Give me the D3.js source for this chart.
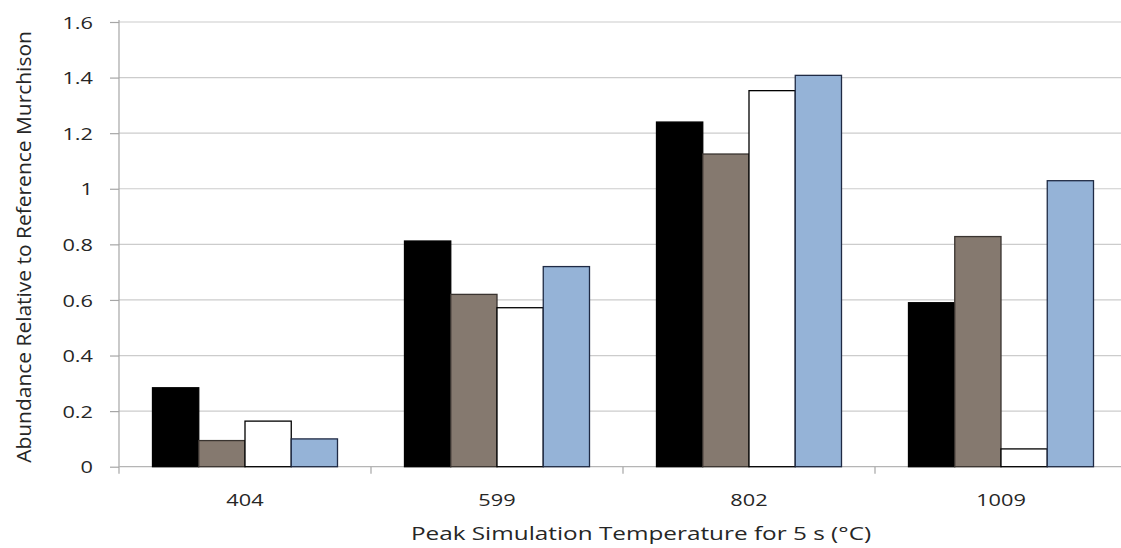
<!DOCTYPE html>
<html>
<head>
<meta charset="utf-8">
<script src="https://cdn.jsdelivr.net/npm/d3@7"></script>
<style>
  html, body { margin: 0; padding: 0; background: #fff; }
  svg { display: block; }
  text { font-family: "Open Sans", "Noto Sans", sans-serif; fill: #262626; }
</style>
</head>
<body>
<svg id="chart" width="1121" height="548"></svg>
<script>
// Peak temperatures (categories) and abundance series, relative to reference Murchison
const categories = ["404", "599", "802", "1009"];
const seriesNames = ["A", "B", "C", "D"];
const seriesA = [0.284, 0.812, 1.240, 0.590];
const seriesB = [0.094, 0.620, 1.125, 0.828];
const seriesC = [0.164, 0.572, 1.353, 0.064];
const seriesD = [0.100, 0.720, 1.408, 1.029];
const yTicks = [0, 0.2, 0.4, 0.6, 0.8, 1, 1.2, 1.4, 1.6];
const yTickLabels = ["0", "0.2", "0.4", "0.6", "0.8", "1", "1.2", "1.4", "1.6"];

const allSeries = [seriesA, seriesB, seriesC, seriesD];
const fills = ["#000000", "#85796f", "#ffffff", "#95b3d7"];
const strokes = ["#000000", "#3a3430", "#000000", "#1f2a44"];

const W = 1121, H = 548;
const plotLeft = 119, plotRight = 1127, plotTop = 22, plotBottom = 466.7;
const stretchX = 1.28; // wide lettering used throughout the figure

const svg = d3.select("#chart");

const x = d3.scaleBand().domain(categories).range([plotLeft, plotRight]).padding(0);
const groupPad = 33.5;
const xs = d3.scaleBand().domain(seriesNames)
  .range([groupPad, x.bandwidth() - groupPad]).padding(0);
const y = d3.scaleLinear().domain([0, 1.6]).range([plotBottom, plotTop]);

// horizontal gridlines
svg.append("g")
  .selectAll("line")
  .data(yTicks.filter(d => d > 0))
  .join("line")
  .attr("x1", plotLeft).attr("x2", W)
  .attr("y1", d => y(d)).attr("y2", d => y(d))
  .attr("stroke", "#cccccc").attr("stroke-width", 1.2);

// y axis
const yAxis = d3.axisLeft(y)
  .tickValues(yTicks)
  .tickFormat((d, i) => yTickLabels[i])
  .tickSize(9)
  .tickPadding(0);
const gy = svg.append("g").attr("transform", `translate(${plotLeft},0)`).call(yAxis);
gy.select(".domain").remove();
gy.selectAll(".tick line").attr("stroke", "#a6a6a6").attr("stroke-width", 1.2);
gy.selectAll(".tick text")
  .attr("x", null)
  .attr("transform", `translate(-26,0) scale(${stretchX},1)`)
  .style("font-size", "17px").attr("fill", "#333").attr("dy", "0.36em");
svg.append("line")
  .attr("x1", plotLeft).attr("x2", plotLeft)
  .attr("y1", plotTop - 2).attr("y2", plotBottom + 7)
  .attr("stroke", "#a6a6a6").attr("stroke-width", 1.2);

// x baseline and category separators
svg.append("line")
  .attr("x1", plotLeft).attr("x2", W)
  .attr("y1", plotBottom).attr("y2", plotBottom)
  .attr("stroke", "#b5b5b5").attr("stroke-width", 1.2);
svg.append("g")
  .selectAll("line")
  .data(categories.slice(1))
  .join("line")
  .attr("x1", d => x(d)).attr("x2", d => x(d))
  .attr("y1", plotBottom).attr("y2", plotBottom + 7)
  .attr("stroke", "#a6a6a6").attr("stroke-width", 1.2);

// bars
const groups = svg.append("g")
  .selectAll("g")
  .data(categories)
  .join("g")
  .attr("transform", d => `translate(${x(d)},0)`);

groups.selectAll("rect")
  .data((c, ci) => allSeries.map((s, si) => ({ key: seriesNames[si], v: s[ci], si })))
  .join("rect")
  .attr("x", d => xs(d.key))
  .attr("width", xs.bandwidth())
  .attr("y", d => y(d.v))
  .attr("height", d => plotBottom - y(d.v))
  .attr("fill", d => fills[d.si])
  .attr("stroke", d => strokes[d.si])
  .attr("stroke-width", 1.3);

// category labels
svg.append("g")
  .selectAll("text")
  .data(categories)
  .join("text")
  .attr("transform", d => `translate(${x(d) + x.bandwidth() / 2},506) scale(${stretchX},1)`)
  .attr("text-anchor", "middle")
  .style("font-size", "17px")
  .attr("fill", "#333")
  .text(d => d);

// axis titles
svg.append("text")
  .attr("transform", `translate(641,540) scale(${stretchX},1)`)
  .attr("text-anchor", "middle")
  .style("font-size", "19px")
  .text("Peak Simulation Temperature for 5 s (°C)");

svg.append("text")
  .attr("transform", "translate(31,247) rotate(-90) scale(1.165,1.1)")
  .attr("text-anchor", "middle")
  .style("font-size", "18px")
  .text("Abundance Relative to Reference Murchison");
</script>
</body>
</html>
